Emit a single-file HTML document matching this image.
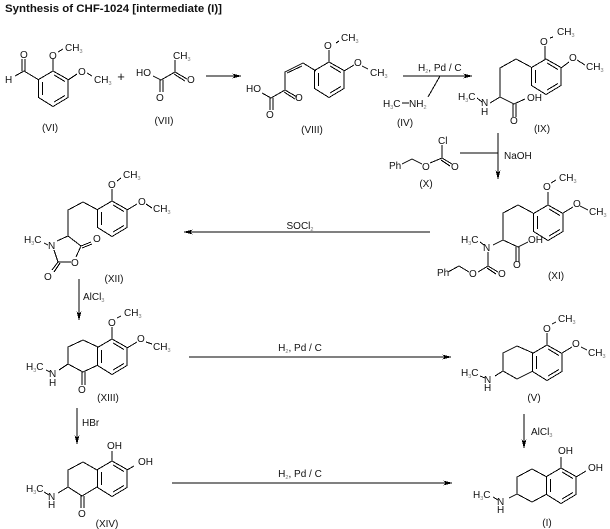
<!DOCTYPE html>
<html><head><meta charset="utf-8"><style>
html,body{margin:0;padding:0;background:#fff}
svg{display:block}
text{font-family:"Liberation Sans",Arial,sans-serif;font-size:10px;fill:#111;white-space:pre}
.s{font-size:5.5px;fill:#777}
.m{text-anchor:middle}
.b{fill:none;stroke:#000;stroke-width:1}
.h{fill:#000}
</style></head><body>
<svg width="610" height="529" viewBox="0 0 610 529" xmlns="http://www.w3.org/2000/svg" shape-rendering="crispEdges">
<defs>
<path id="r" class="b" d="M0 0L15 8.5V26.5L0 35.5L-14.5 26.5V8.5ZM-10.5 11V24M1 4L12 10.5M12 24.5L1 31"/>
</defs>
<rect width="610" height="529" fill="#fff"/>
<text x="5" y="12" font-weight="bold" style="font-size:11px;font-weight:bold" textLength="217" lengthAdjust="spacingAndGlyphs">Synthesis of CHF-1024 [intermediate (I)]</text>

<!-- VI -->
<use href="#r" x="53" y="71"/>
<path class="b" d="M39 80L24 71L15 76M22 71V59M25 71V59M53 71V59M58 52L63 49M68 80L77 74M87 73L92 76"/>
<text x="5" y="83">H</text><text x="20" y="58">O</text><text x="49" y="59">O</text>
<text x="65" y="51">CH<tspan class="s" dy="2">3</tspan></text>
<text x="78" y="75">O</text>
<text x="94" y="83">CH<tspan class="s" dy="2">3</tspan></text>
<text x="50" y="131" class="m">(VI)</text>
<text x="121" y="81" class="m" style="font-size:13px">+</text>

<!-- VII -->
<path class="b" d="M153 76L161 80L175 72V60M175 72L187 79M174 74L185 81M160 80V92M163 80V92"/>
<text x="136" y="76">HO</text><text x="173" y="59">CH<tspan class="s" dy="2">3</tspan></text>
<text x="187" y="83">O</text><text x="156" y="101">O</text>
<text x="164" y="124" class="m">(VII)</text>

<!-- arrow 1 -->
<path class="b" d="M206 76H240"/><path class="h" d="M242 76L232 73.5L235 76L232 78.5Z"/>

<!-- VIII -->
<use href="#r" x="329" y="62"/>
<path class="b" d="M262 93L271 98L285 90V72L303 63L316 71M287 73L302 66M285 90L297 97M284 92L295 99M270 98V110M273 98V110M329 62V50M336 43L339 41M344 71L354 65M362 66L368 69"/>
<text x="246" y="92">HO</text><text x="295" y="101">O</text><text x="266" y="118">O</text>
<text x="324" y="49">O</text><text x="341" y="41">CH<tspan class="s" dy="2">3</tspan></text>
<text x="354" y="66">O</text><text x="370" y="76">CH<tspan class="s" dy="2">3</tspan></text>
<text x="312" y="133" class="m">(VIII)</text>

<!-- arrow 2 + reagents -->
<path class="b" d="M403 76H471M440 76L428 97M402 103H409"/><path class="h" d="M473 76L463 73.5L466 76L463 78.5Z"/>
<text x="418" y="71">H<tspan class="s" dy="2">2</tspan><tspan dy="-2">, Pd / C</tspan></text>
<text x="383" y="107">H<tspan class="s" dy="2">3</tspan><tspan dy="-2">C</tspan></text>
<text x="409" y="107">NH<tspan class="s" dy="2">2</tspan></text>
<text x="405" y="126" class="m">(IV)</text>

<!-- IX -->
<use href="#r" x="546" y="59"/>
<path class="b" d="M531 67L516 59L500 68V97L514 104L525 99M500 97L490 103M477 98L482 102M513 104V117M516 104V117M545 59V46M550 38L553 37M561 68L569 62M577 60L585 65"/>
<text x="458" y="100">H<tspan class="s" dy="2">3</tspan><tspan dy="-2">C</tspan></text>
<text x="481" y="106">N</text><text x="481" y="115">H</text>
<text x="527" y="101">OH</text><text x="510" y="124">O</text>
<text x="540" y="45">O</text><text x="557" y="35">CH<tspan class="s" dy="2">3</tspan></text>
<text x="569" y="61">O</text><text x="586" y="70">CH<tspan class="s" dy="2">3</tspan></text>
<text x="542" y="132" class="m">(IX)</text>

<!-- arrow 3 + X -->
<path class="b" d="M498 133V178M460 153H498"/><path class="h" d="M498 180L495.500 170L498 173L500.500 170Z"/>
<text x="504" y="159">NaOH</text>
<path class="b" d="M442 145V158L452 164M441 160L450 166M442 158L430 163M422 164L412 159L402 164"/>
<text x="438" y="144">Cl</text><text x="422" y="170">O</text><text x="451" y="170">O</text>
<text x="389" y="169">Ph</text>
<text x="426" y="187" class="m">(X)</text>

<!-- XI -->
<use href="#r" x="548" y="205"/>
<path class="b" d="M533 213L518 205L503 213V240L518 247L528 242M503 240L493 245M480 242L484 245M488 252V266L498 272M487 268L496 274M488 266L478 272M469 272L459 266L448 272M516 247V262M519 247V262M548 205V192M551 183L556 180M563 213L573 207M580 206L588 210"/>
<text x="461" y="243">H<tspan class="s" dy="2">3</tspan><tspan dy="-2">C</tspan></text>
<text x="483" y="251">N</text>
<text x="528" y="243">OH</text><text x="513" y="268">O</text>
<text x="498" y="277">O</text><text x="469" y="277">O</text><text x="437" y="276">Ph</text>
<text x="543" y="190">O</text><text x="559" y="181">CH<tspan class="s" dy="2">3</tspan></text>
<text x="573" y="207">O</text><text x="589" y="215">CH<tspan class="s" dy="2">3</tspan></text>
<text x="556" y="279" class="m">(XI)</text>

<!-- long arrow left -->
<path class="b" d="M430 232H185"/><path class="h" d="M183 232L193 229.500L190 232L193 234.500Z"/>
<text x="300" y="229" class="m">SOCl<tspan class="s" dy="2">2</tspan></text>

<!-- XII -->
<use href="#r" x="112" y="201"/>
<path class="b" d="M98 210L83 202L68 210V236L81 246L76 257M71 262H58L54 250M57 241L68 236M44 243L48 245M81 246L91 242M82 248L92 244M58 262L52 270M60 263L54 272M112 201V189M117 181L121 178M127 210L137 204M146 204L152 208"/>
<text x="24" y="243">H<tspan class="s" dy="2">3</tspan><tspan dy="-2">C</tspan></text>
<text x="48" y="249">N</text><text x="71" y="266">O</text>
<text x="93" y="242">O</text><text x="44" y="280">O</text>
<text x="108" y="188">O</text><text x="123" y="178">CH<tspan class="s" dy="2">3</tspan></text>
<text x="138" y="205">O</text><text x="153" y="212">CH<tspan class="s" dy="2">3</tspan></text>
<text x="114" y="282" class="m">(XII)</text>

<!-- arrow AlCl3 left -->
<path class="b" d="M79 279V319"/><path class="h" d="M79 321L76.500 311L79 314L81.500 311Z"/>
<text x="83" y="300">AlCl<tspan class="s" dy="2">3</tspan></text>

<!-- XIII -->
<use href="#r" x="112" y="339"/>
<path class="b" d="M98 347L83 340L68 347V364L83 372L98 365M68 364L59 370M46 370L50 372M82 372V385M85 372V385M112 339V327M117 318L121 316M127 348L137 342M146 342L152 344"/>
<text x="26" y="370">H<tspan class="s" dy="2">3</tspan><tspan dy="-2">C</tspan></text>
<text x="49" y="377">N</text><text x="49" y="386">H</text><text x="78" y="393">O</text>
<text x="108" y="326">O</text><text x="124" y="316">CH<tspan class="s" dy="2">3</tspan></text>
<text x="137" y="342">O</text><text x="153" y="350">CH<tspan class="s" dy="2">3</tspan></text>
<text x="108" y="401" class="m">(XIII)</text>

<!-- arrow mid -->
<path class="b" d="M189 357H450"/><path class="h" d="M452 357L442 354.500L445 357L442 359.500Z"/>
<text x="300" y="351" class="m">H<tspan class="s" dy="2">2</tspan><tspan dy="-2">, Pd / C</tspan></text>

<!-- V -->
<use href="#r" x="547" y="345"/>
<path class="b" d="M533 353L517 346L503 353V371L517 379L533 371M503 371L495 376M480 376L485 378M547 345V333M552 324L556 322M562 353L572 347M581 347L587 350"/>
<text x="461" y="376">H<tspan class="s" dy="2">3</tspan><tspan dy="-2">C</tspan></text>
<text x="484" y="383">N</text><text x="484" y="391">H</text>
<text x="543" y="332">O</text><text x="558" y="322">CH<tspan class="s" dy="2">3</tspan></text>
<text x="572" y="347">O</text><text x="588" y="356">CH<tspan class="s" dy="2">3</tspan></text>
<text x="534" y="401" class="m">(V)</text>

<!-- arrow HBr -->
<path class="b" d="M77 408V443"/><path class="h" d="M77 445L74.500 435L77 438L79.500 435Z"/>
<text x="82" y="426">HBr</text>

<!-- XIV -->
<use href="#r" x="112" y="461"/>
<path class="b" d="M97 470L83 462L68 470V487L82 496L97 487M68 487L58 493M44 492L49 495M81 496V508M84 496V508M112 461V451M127 470L134 466"/>
<text x="26" y="492">H<tspan class="s" dy="2">3</tspan><tspan dy="-2">C</tspan></text>
<text x="48" y="500">N</text><text x="48" y="508">H</text><text x="78" y="517">O</text>
<text x="107" y="449">OH</text><text x="138" y="465">OH</text>
<text x="107" y="527" class="m">(XIV)</text>

<!-- arrow bottom -->
<path class="b" d="M172 483H451"/><path class="h" d="M453 483L443 480.500L446 483L443 485.500Z"/>
<text x="300" y="477" class="m">H<tspan class="s" dy="2">2</tspan><tspan dy="-2">, Pd / C</tspan></text>

<!-- arrow AlCl3 right -->
<path class="b" d="M524 414V447"/><path class="h" d="M524 449L521.500 439L524 442L526.500 439Z"/>
<text x="531" y="435">AlCl<tspan class="s" dy="2">3</tspan></text>

<!-- I -->
<use href="#r" x="561" y="468"/>
<path class="b" d="M547 477L532 469L517 477V494L532 502L547 494M517 494L509 498M493 497L498 500M561 468V457M576 477L586 471"/>
<text x="473" y="498">H<tspan class="s" dy="2">3</tspan><tspan dy="-2">C</tspan></text>
<text x="497" y="505">N</text><text x="497" y="513">H</text>
<text x="558" y="454">OH</text><text x="588" y="471">OH</text>
<text x="547" y="526" class="m">(I)</text>
</svg>
</body></html>
